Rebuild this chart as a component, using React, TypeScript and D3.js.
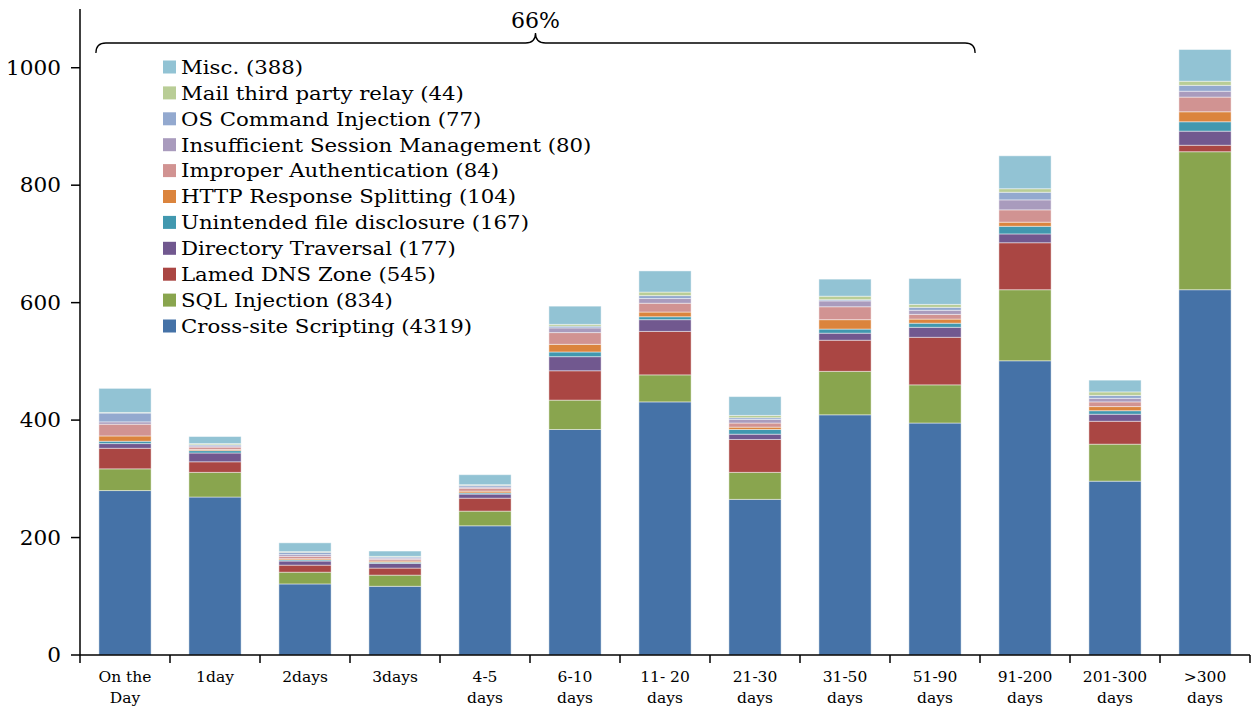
import React from "react";
import * as d3 from "d3";

const categories: string[][] = [
  ["On the", "Day"], ["1day"], ["2days"], ["3days"], ["4-5", "days"], ["6-10", "days"],
  ["11- 20", "days"], ["21-30", "days"], ["31-50", "days"], ["51-90", "days"],
  ["91-200", "days"], ["201-300", "days"], [">300", "days"],
];

const seriesNames = [
  "Cross-site Scripting (4319)",
  "SQL Injection (834)",
  "Lamed DNS Zone (545)",
  "Directory Traversal (177)",
  "Unintended file disclosure (167)",
  "HTTP Response Splitting (104)",
  "Improper Authentication (84)",
  "Insufficient Session Management (80)",
  "OS Command Injection (77)",
  "Mail third party relay (44)",
  "Misc. (388)",
];

const colors = [
  "#4572A7", "#89A54E", "#AA4643", "#71588F", "#4198AF", "#DB843D",
  "#D19392", "#A99BBD", "#93A9CF", "#B9CD96", "#92C3D4",
];

const xss = [280, 269, 121, 117, 220, 384, 431, 265, 409, 395, 501, 296, 622];
const sqlInj = [37, 42, 20, 19, 25, 50, 46, 46, 74, 65, 121, 63, 235];
const lamedDns = [35, 18, 12, 12, 22, 50, 74, 56, 53, 81, 80, 39, 11];
const dirTraversal = [8, 15, 7, 8, 7, 24, 20, 9, 12, 17, 15, 12, 24];
const fileDisclosure = [4, 4, 2, 2, 2, 8, 5, 8, 7, 7, 13, 6, 16];
const httpSplitting = [9, 2, 2, 2, 3, 13, 8, 4, 16, 7, 7, 7, 17];
const improperAuth = [20, 4, 4, 3, 5, 20, 15, 7, 22, 8, 21, 8, 25];
const sessionMgmt = [4, 2, 3, 2, 2, 8, 8, 6, 10, 7, 17, 6, 10];
const osCommand = [15, 2, 4, 2, 3, 3, 5, 3, 2, 5, 13, 5, 10];
const mailRelay = [1, 2, 1, 1, 1, 3, 6, 4, 6, 5, 6, 6, 7];
const misc = [41, 12, 15, 9, 17, 31, 36, 32, 29, 44, 56, 20, 54];

const seriesValues = [
  xss, sqlInj, lamedDns, dirTraversal, fileDisclosure, httpSplitting,
  improperAuth, sessionMgmt, osCommand, mailRelay, misc,
];

const yTicks = [0, 200, 400, 600, 800, 1000];
const braceLabel = "66%";

const W = 1255, H = 709;
const left = 80, right = 1250, bottom = 655;
const FONT = "'DejaVu Serif', serif";

export default function App() {
  const x = d3
    .scaleBand<number>()
    .domain(d3.range(categories.length))
    .range([left, right])
    .paddingInner(0.42)
    .paddingOuter(0.21);
  const y = d3.scaleLinear().domain([0, 1100]).range([bottom, 9]);

  const rows = categories.map((_, i) => {
    const r: Record<string, number> = {};
    seriesValues.forEach((s, k) => (r["s" + k] = s[i]));
    return r;
  });
  const stack = d3.stack<Record<string, number>>().keys(seriesValues.map((_, k) => "s" + k));
  const stacked = stack(rows);

  const step = x.step();
  const boundaries = d3.range(categories.length + 1).map((i) => left + i * step);

  // brace spanning the first ten bars
  const bx0 = (x(0) as number) - 3;
  const bx1 = (x(9) as number) + x.bandwidth() + 14;
  const bmid = (bx0 + bx1) / 2;
  const by = 43;
  const r = 10;
  const bracePath =
    `M${bx0},${by + r} Q${bx0},${by} ${bx0 + r},${by} L${bmid - r},${by} Q${bmid},${by} ${bmid},${by - r} ` +
    `Q${bmid},${by} ${bmid + r},${by} L${bx1 - r},${by} Q${bx1},${by} ${bx1},${by + r}`;

  const legendOrder = d3.range(seriesNames.length).reverse();

  return (
    <svg width={W} height={H} style={{ position: "absolute", left: 0, top: 0, background: "#fff" }}>
      {stacked.map((layer, k) => (
        <g key={k} fill={colors[k]}>
          {layer.map((d, i) => (
            <rect
              key={i}
              x={x(i)}
              width={x.bandwidth()}
              y={y(d[1])}
              height={Math.max(0, y(d[0]) - y(d[1]))}
              stroke="#ffffff"
              strokeOpacity={0.45}
              strokeWidth={1}
            />
          ))}
        </g>
      ))}

      {/* y axis */}
      <line x1={left} x2={left} y1={9} y2={bottom} stroke="#000" strokeWidth={1.5} />
      {yTicks.map((t) => (
        <g key={t}>
          <line x1={left - 9} x2={left} y1={y(t)} y2={y(t)} stroke="#000" strokeWidth={1.5} />
          <text
            x={61}
            y={y(t)}
            dy="0.36em"
            textAnchor="end"
            fontFamily={FONT}
            fontSize={20}
            fill="#000"
            transform={`translate(61,0) scale(1.08,1) translate(-61,0)`}
          >
            {t}
          </text>
        </g>
      ))}

      {/* x axis */}
      <line x1={left} x2={right} y1={bottom} y2={bottom} stroke="#000" strokeWidth={1.5} />
      {boundaries.map((b, i) => (
        <line key={i} x1={b} x2={b} y1={bottom} y2={bottom + 8} stroke="#000" strokeWidth={1.5} />
      ))}
      {categories.map((lines, i) => (
        <text
          key={i}
          x={(x(i) as number) + x.bandwidth() / 2}
          y={682}
          textAnchor="middle"
          fontFamily={FONT}
          fontSize={15.5}
          fill="#000"
        >
          {lines.map((l, j) => (
            <tspan key={j} x={(x(i) as number) + x.bandwidth() / 2} dy={j === 0 ? 0 : 21}>
              {l}
            </tspan>
          ))}
        </text>
      ))}

      {/* brace */}
      <path d={bracePath} fill="none" stroke="#000" strokeWidth={1.3} />
      <text x={bmid} y={28} textAnchor="middle" fontFamily={FONT} fontSize={22} fill="#000">
        {braceLabel}
      </text>

      {/* legend */}
      {legendOrder.map((k, j) => (
        <g key={k} transform={`translate(163, ${67 + j * 25.9})`}>
          <rect x={0} y={-6.5} width={13} height={13} fill={colors[k]} />
          <text
            x={18}
            y={0}
            dy="0.36em"
            fontFamily={FONT}
            fontSize={19}
            fill="#000"
            transform="translate(18,0) scale(1.12,1) translate(-18,0)"
          >
            {seriesNames[k]}
          </text>
        </g>
      ))}
    </svg>
  );
}
